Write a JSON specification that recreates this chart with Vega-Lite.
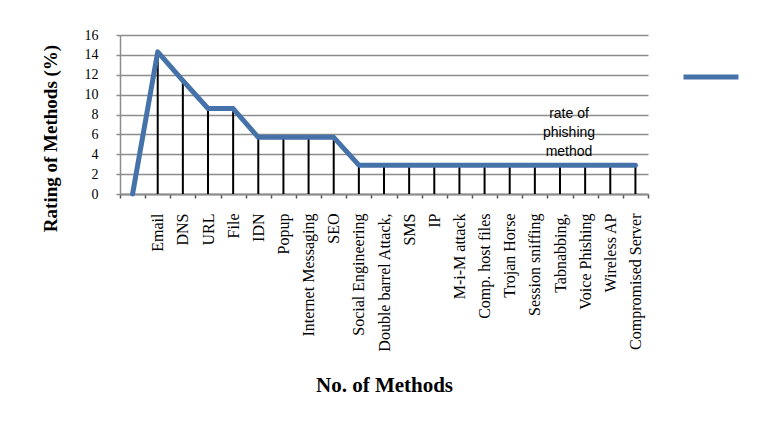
{
  "$schema": "https://vega.github.io/schema/vega-lite/v6.json",
  "width": 528,
  "height": 159,
  "autosize": {"type": "none"},
  "padding": {"left": 120, "top": 35, "right": 116, "bottom": 234},
  "background": "white",
  "config": {
    "view": {"stroke": null},
    "font": "Liberation Serif"
  },
  "data": {
    "values": [
      {"method": "", "rate": 0},
      {"method": "Email", "rate": 14.3},
      {"method": "DNS", "rate": 11.4},
      {"method": "URL", "rate": 8.6},
      {"method": "File", "rate": 8.6},
      {"method": "IDN", "rate": 5.7},
      {"method": "Popup", "rate": 5.7},
      {"method": "Internet Messaging", "rate": 5.7},
      {"method": "SEO", "rate": 5.7},
      {"method": "Social Engineering", "rate": 2.9},
      {"method": "Double barrel Attack,", "rate": 2.9},
      {"method": "SMS", "rate": 2.9},
      {"method": "IP", "rate": 2.9},
      {"method": "M-i-M attack", "rate": 2.9},
      {"method": "Comp.  host files", "rate": 2.9},
      {"method": "Trojan Horse", "rate": 2.9},
      {"method": "Session sniffing", "rate": 2.9},
      {"method": "Tabnabbing,", "rate": 2.9},
      {"method": "Voice Phishing", "rate": 2.9},
      {"method": "Wireless AP", "rate": 2.9},
      {"method": "Compromised Server", "rate": 2.9}
    ]
  },
  "encoding": {
    "x": {
      "field": "method",
      "type": "nominal",
      "sort": null,
      "scale": {"paddingInner": 0, "paddingOuter": 0},
      "axis": {
        "title": "No. of Methods",
        "titleFont": "Liberation Serif",
        "titleFontSize": 21,
        "titleFontWeight": "bold",
        "titleColor": "black",
        "titleX": 264,
        "titleY": 191,
        "titleBaseline": "middle",
        "labelAngle": -90,
        "labelFont": "Liberation Serif",
        "labelFontSize": 16,
        "labelColor": "black",
        "labelPadding": 15,
        "tickBand": "extent",
        "tickSize": 4,
        "tickColor": "#555555",
        "tickWidth": 1.5,
        "domainColor": "#8c8c8c",
        "domainWidth": 2,
        "grid": false
      }
    },
    "y": {
      "field": "rate",
      "type": "quantitative",
      "scale": {"domain": [0, 16], "nice": false},
      "axis": {
        "title": "Rating of Methods (%)",
        "titleFont": "Liberation Serif",
        "titleFontSize": 19,
        "titleFontWeight": "bold",
        "titleColor": "black",
        "titleX": -70,
        "titleY": 103,
        "titleBaseline": "middle",
        "titleAlign": "center",
        "values": [0, 2, 4, 6, 8, 10, 12, 14, 16],
        "labelFont": "Liberation Serif",
        "labelFontSize": 14,
        "labelColor": "black",
        "labelPadding": 18,
        "tickSize": 4,
        "tickColor": "#8c8c8c",
        "tickWidth": 1.5,
        "domainColor": "#8c8c8c",
        "domainWidth": 1.5,
        "grid": true,
        "gridColor": "#8c8c8c",
        "gridWidth": 1.5
      }
    }
  },
  "layer": [
    {
      "mark": {"type": "rule", "color": "black", "strokeWidth": 2},
      "encoding": {"y2": {"datum": 0}}
    },
    {
      "mark": {"type": "line", "strokeWidth": 5, "strokeCap": "round", "strokeJoin": "round"},
      "encoding": {
        "color": {
          "datum": "rate of phishing method",
          "scale": {"range": ["#4672AA"]},
          "legend": {
            "orient": "none",
            "legendX": 561,
            "legendY": 12,
            "title": null,
            "labelExpr": "''",
            "symbolType": "stroke",
            "symbolSize": 3025,
            "symbolStrokeWidth": 5,
            "symbolStrokeColor": "#4672AA",
            "padding": 0
          }
        }
      }
    },
    {
      "data": {"values": [{"method": "Tabnabbing,", "rate": 6.3, "label": ["rate of", "phishing", "method"]}]},
      "mark": {"type": "text", "font": "Liberation Sans", "fontSize": 14, "lineHeight": 19, "dx": 9, "dy": -17, "align": "center", "baseline": "middle", "color": "black"},
      "encoding": {"text": {"field": "label"}}
    }
  ]
}
